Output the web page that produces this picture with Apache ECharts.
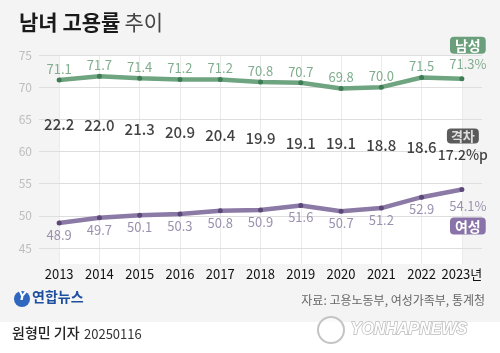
<!DOCTYPE html>
<html>
<head>
<meta charset="utf-8">
<script src="https://cdn.jsdelivr.net/npm/echarts@6/dist/echarts.min.js"></script>
<style>
html, body { margin: 0; padding: 0; background: #f4f4f4; }
#chart { width: 500px; height: 353px; }
</style>
</head>
<body>
<div id="chart"></div>
<script>
'use strict';

var years = ['2013', '2014', '2015', '2016', '2017', '2018', '2019', '2020', '2021', '2022', '2023'];
var men = [71.1, 71.7, 71.4, 71.2, 71.2, 70.8, 70.7, 69.8, 70.0, 71.5, 71.3];
var women = [48.9, 49.7, 50.1, 50.3, 50.8, 50.9, 51.6, 50.7, 51.2, 52.9, 54.1];
var gap = [22.2, 22.0, 21.3, 20.9, 20.4, 19.9, 19.1, 19.1, 18.8, 18.6, 17.2];

var FONT = 'Noto Sans CJK KR';
var last = years.length - 1;

var chart = echarts.init(document.getElementById('chart'));

var option = {
  backgroundColor: '#f4f4f4',
  textStyle: { fontFamily: FONT },
  animation: false,
  title: {
    left: 14,
    top: 7,
    text: '{b|남녀 고용률} {r|추이}',
    textStyle: {
      rich: {
        b: { fontFamily: FONT, fontSize: 21, fontWeight: 'bold', color: '#1a1a1a' },
        r: { fontFamily: FONT, fontSize: 21, fontWeight: 'normal', color: '#444' }
      }
    }
  },
  grid: [
    // 가로 격자선용
    { left: 39, right: 18, top: 55, bottom: 105 },
    // 흰 배경 + 세로선용
    { left: 59, right: 38, top: 55, bottom: 89, show: true, backgroundColor: '#ffffff', borderWidth: 0 }
  ],
  xAxis: [{
    type: 'category',
    gridIndex: 0,
    data: years,
    boundaryGap: true,
    axisLine: { show: false },
    axisTick: { show: false },
    splitLine: { show: false },
    axisLabel: {
      interval: 0,
      margin: 20,
      fontFamily: FONT,
      fontSize: 13,
      color: '#111',
      formatter: function (v, i) {
        return i === last ? v + '년' : v;
      }
    }
  }, {
    type: 'category',
    gridIndex: 1,
    data: years,
    boundaryGap: false,
    axisLine: { show: false },
    axisTick: { show: false },
    axisLabel: { show: false },
    splitLine: { show: true, interval: 0, lineStyle: { color: '#ebebeb', width: 1 } }
  }],
  yAxis: [{
    type: 'value',
    gridIndex: 0,
    min: 45,
    max: 75,
    interval: 5,
    z: 2,
    axisLine: { show: false },
    axisTick: { show: false },
    axisLabel: { margin: 7, fontSize: 12, color: '#bdbdbd', fontFamily: FONT },
    splitLine: { lineStyle: { color: '#dedede', width: 1 } }
  }, {
    type: 'value',
    gridIndex: 1,
    min: 0,
    max: 1,
    axisLine: { show: false },
    axisTick: { show: false },
    axisLabel: { show: false },
    splitLine: { show: false }
  }, {
    // 격차 라벨 위치용 (숨김)
    type: 'value',
    gridIndex: 0,
    min: 2.9,
    max: 32.9,
    show: false,
    splitLine: { show: false }
  }],
  series: [{
    name: '남성',
    type: 'line',
    xAxisIndex: 0,
    yAxisIndex: 0,
    data: men.map(function (v, i) {
      if (i !== last) return v;
      return {
        value: v,
        label: {
          offset: [6, 0],
          formatter: '{badge|남성}\n{val|' + v.toFixed(1) + '%}'
        }
      };
    }),
    symbol: 'circle',
    symbolSize: 5,
    lineStyle: { color: '#6ea47f', width: 4.5 },
    itemStyle: { color: '#3e7c56' },
    label: {
      show: true,
      position: 'top',
      distance: 2,
      fontSize: 13,
      color: '#80ad8e',
      formatter: function (p) { return p.value.toFixed(1); },
      rich: {
        badge: {
          backgroundColor: '#6b9f7b', color: '#fff', fontSize: 14, fontWeight: 'bold',
          fontFamily: FONT, padding: [2, 5, 1, 5], borderRadius: 4, lineHeight: 18
        },
        val: { fontSize: 13, color: '#80ad8e', fontFamily: FONT, lineHeight: 20 }
      }
    },
    z: 5
  }, {
    name: '여성',
    type: 'line',
    xAxisIndex: 0,
    yAxisIndex: 0,
    data: women.map(function (v, i) {
      if (i !== last) return v;
      return {
        value: v,
        label: {
          offset: [6, 0],
          formatter: '{val|' + v.toFixed(1) + '%}\n{badge|여성}'
        }
      };
    }),
    symbol: 'circle',
    symbolSize: 5,
    lineStyle: { color: '#8b79a6', width: 4.5 },
    itemStyle: { color: '#5b4878' },
    label: {
      show: true,
      position: 'bottom',
      distance: 3,
      fontSize: 13,
      color: '#9b91af',
      formatter: function (p) { return p.value.toFixed(1); },
      rich: {
        badge: {
          backgroundColor: '#8a73a8', color: '#fff', fontSize: 14, fontWeight: 'bold',
          fontFamily: FONT, padding: [2, 5, 1, 5], borderRadius: 4, lineHeight: 18
        },
        val: { fontSize: 13, color: '#9b91af', fontFamily: FONT, lineHeight: 22 }
      }
    },
    z: 5
  }, {
    name: '격차',
    type: 'scatter',
    xAxisIndex: 0,
    yAxisIndex: 2,
    data: gap.map(function (v, i) {
      if (i !== last) return v;
      return {
        value: v,
        label: {
          offset: [1, -10],
          formatter: '{badge|격차}\n{val|' + v.toFixed(1) + '%p}'
        }
      };
    }),
    symbolSize: 1,
    itemStyle: { color: 'rgba(0,0,0,0)' },
    label: {
      show: true,
      position: 'inside',
      fontSize: 15,
      fontWeight: 500,
      color: '#111',
      formatter: function (p) { return p.value.toFixed(1); },
      rich: {
        badge: {
          backgroundColor: '#333', color: '#fff', fontSize: 13, fontWeight: 'bold',
          fontFamily: FONT, padding: [1, 4, 1, 4], borderRadius: 4, lineHeight: 17
        },
        val: { fontSize: 14, fontWeight: 500, color: '#111', fontFamily: FONT, lineHeight: 20 }
      }
    },
    z: 6
  }, {
    // 흰 배경 grid용 빈 시리즈
    type: 'line',
    xAxisIndex: 1,
    yAxisIndex: 1,
    data: [],
    silent: true
  }],
  graphic: [
    { type: 'rect', left: 0, top: 322, shape: { width: 500, height: 31 }, style: { fill: '#fff' }, silent: true },
    { type: 'circle', shape: { cx: 22, cy: 299, r: 8 }, style: { fill: '#2f67c0' }, silent: true },
    { type: 'text', left: 18, top: 291, style: { text: 'Y', fill: '#fff', font: 'italic bold 12px "DejaVu Sans"' }, silent: true },
    { type: 'text', left: 32, top: 290, style: { text: '연합뉴스', fill: '#1d4f9f', font: 'bold 14px "Noto Sans CJK KR"' }, silent: true },
    { type: 'text', right: 15, top: 294, style: { text: '자료: 고용노동부, 여성가족부, 통계청', fill: '#666', font: '12px "Noto Sans CJK KR"' }, silent: true },
    { type: 'circle', shape: { cx: 331, cy: 330, r: 13 }, style: { fill: 'rgba(255,255,255,0.6)', stroke: '#c4c4c4', lineWidth: 2 }, silent: true },
    { type: 'text', left: 350, top: 321, style: { text: 'YONHAPNEWS', fill: '#fff', stroke: '#bcbcbc', lineWidth: 1.5, font: 'italic bold 16px "Liberation Sans"' }, silent: true },
    { type: 'text', left: 12, top: 326, style: { text: '원형민 기자', fill: '#222', font: '500 14px "Noto Sans CJK KR"' }, silent: true },
    { type: 'text', left: 84, top: 328, style: { text: '20250116', fill: '#333', font: '13px "Noto Sans CJK KR"' }, silent: true }
  ]
};

chart.setOption(option);
</script>
</body>
</html>
